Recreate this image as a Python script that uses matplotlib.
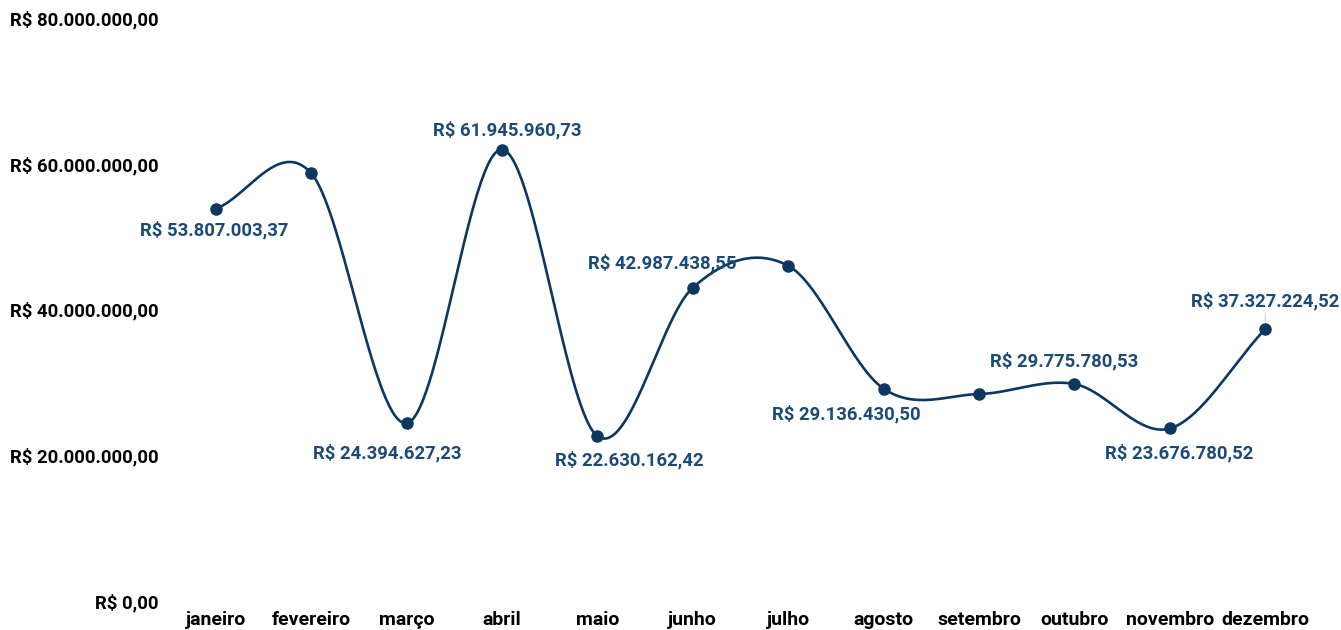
import numpy as np
import matplotlib
matplotlib.use("Agg")
import matplotlib.pyplot as plt

months = ["janeiro", "fevereiro", "março", "abril", "maio", "junho",
          "julho", "agosto", "setembro", "outubro", "novembro", "dezembro"]
values = [53807003.37, 58700000.00, 24394627.23, 61945960.73, 22630162.42,
          42987438.55, 46000000.00, 29136430.50, 28400000.00, 29775780.53,
          23676780.52, 37327224.52]
# months that carry a value label, and where that label sits (pixels from the point)
labelled = [0, 2, 3, 4, 5, 7, 9, 10, 11]
label_offsets = {0: (-2, -21), 2: (-19, -30), 3: (5, 19), 4: (32, -24),
                 5: (-31, 25), 7: (-37, -25), 9: (-10, 23), 10: (9, -25),
                 11: (0, 28)}
y_ticks = [0, 20000000, 40000000, 60000000, 80000000]

LINE = "#0b3761"
TEXT = "#1b4a76"

plt.rcParams["font.family"] = ["Roboto", "DejaVu Sans"]


def brl(v):
    s = f"{v:,.2f}"
    s = s.replace(",", "X").replace(".", ",").replace("X", ".")
    return "R$ " + s


def catmull_rom(y, n=60):
    y = np.asarray(y, float)
    k = len(y)
    m = np.empty(k)
    m[1:-1] = (y[2:] - y[:-2]) / 2.0
    m[0] = y[1] - y[0]
    m[-1] = y[-1] - y[-2]
    xs, ys = [], []
    for i in range(k - 1):
        t = np.linspace(0, 1, n, endpoint=(i == k - 2))
        h00 = 2 * t**3 - 3 * t**2 + 1
        h10 = t**3 - 2 * t**2 + t
        h01 = -2 * t**3 + 3 * t**2
        h11 = t**3 - t**2
        xs.append(i + t)
        ys.append(h00 * y[i] + h10 * m[i] + h01 * y[i + 1] + h11 * m[i + 1])
    return np.concatenate(xs), np.concatenate(ys)


fig = plt.figure(figsize=(13.41, 6.30), dpi=100)
ax = fig.add_axes([168 / 1341, 29 / 630, (1313 - 168) / 1341, (601 - 18) / 630])

x = np.arange(len(months))
sx, sy = catmull_rom(values)
ax.plot(sx, sy, color=LINE, lw=1.9, solid_capstyle="round", zorder=2)
ax.plot(x, values, "o", color=LINE, ms=8, zorder=3)

for i in labelled:
    dx, dy = label_offsets[i]
    kw = {}
    if i == 11:
        kw["arrowprops"] = dict(arrowstyle="-", color="#d0d0d0", lw=0.8,
                                shrinkA=0, shrinkB=5)
    ax.annotate(brl(values[i]), (x[i], values[i]), xytext=(dx, dy),
                textcoords="offset pixels", ha="center", va="center",
                fontsize=13.3, fontweight="bold", color=TEXT, zorder=4, **kw)

ax.set_xlim(-0.5, len(months) - 0.5)
ax.set_ylim(0, 80000000)
ax.set_xticks(x)
ax.set_xticklabels(months, fontsize=14, fontweight="bold", color="black")
ax.set_yticks(y_ticks)
ax.set_yticklabels([brl(v) for v in y_ticks], fontsize=13.3,
                   fontweight="bold", color="black")
ax.tick_params(length=0, axis="y", pad=7)
ax.tick_params(length=0, axis="x", pad=7)
for s in ax.spines.values():
    s.set_visible(False)
ax.grid(False)

fig.savefig("out.png", dpi=100, facecolor="white")
